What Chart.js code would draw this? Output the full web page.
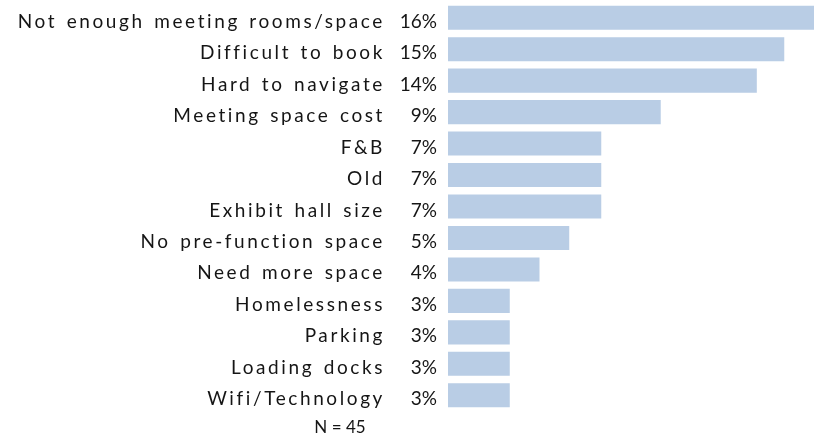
<!DOCTYPE html>
<html>
<head>
<meta charset="utf-8">
<script src="https://cdn.jsdelivr.net/npm/chart.js@4/dist/chart.umd.min.js"></script>
<style>
  html, body { margin: 0; padding: 0; background: #fff; }
  #wrap { width: 816px; height: 435px; }
</style>
</head>
<body>
<div id="wrap"><canvas id="issues-chart"></canvas></div>
<script>
const categories = [
  "Not enough meeting rooms/space",
  "Difficult to book",
  "Hard to navigate",
  "Meeting space cost",
  "F&B",
  "Old",
  "Exhibit hall size",
  "No pre-function space",
  "Need more space",
  "Homelessness",
  "Parking",
  "Loading docks",
  "Wifi/Technology"
];
// share of respondents, in percent
const shares = [16.0, 14.7, 13.5, 9.3, 6.7, 6.7, 6.7, 5.3, 4.0, 2.7, 2.7, 2.7, 2.7];
const sampleNote = "N = 45";

const barColor = "#b9cde5";
const textColor = "#151515";
const labelFont = "19px Lato";

// category names and percent values sit to the left of each bar
const sideLabels = {
  id: "sideLabels",
  afterDatasetsDraw(chart) {
    const ctx = chart.ctx;
    const yScale = chart.scales.y;
    ctx.save();
    ctx.font = labelFont;
    ctx.fillStyle = textColor;
    ctx.textAlign = "right";
    ctx.textBaseline = "alphabetic";
    categories.forEach((name, i) => {
      const y = yScale.getPixelForValue(i) + 10;
      ctx.letterSpacing = "2.6px";
      ctx.wordSpacing = "2px";
      ctx.fillText(name, 385, y);
      ctx.letterSpacing = "0px";
      ctx.wordSpacing = "0px";
      ctx.fillText(Math.round(shares[i]) + "%", 437, y);
    });
    ctx.font = "17px Lato";
    ctx.textAlign = "center";
    ctx.fillText(sampleNote, 340, 433);
    ctx.restore();
  }
};

const chart = new Chart(document.querySelector("#issues-chart"), {
  type: "bar",
  data: {
    labels: categories,
    datasets: [{
      data: shares,
      backgroundColor: barColor,
      borderWidth: 0,
      barPercentage: 0.765,
      categoryPercentage: 1
    }]
  },
  options: {
    indexAxis: "y",
    responsive: true,
    maintainAspectRatio: false,
    animation: false,
    layout: { padding: { left: 448, right: 2, top: 2, bottom: 24 } },
    plugins: {
      legend: { display: false },
      tooltip: { enabled: false }
    },
    scales: {
      x: { display: false, min: 0, max: 16 },
      y: { display: false }
    }
  },
  plugins: [sideLabels]
});
</script>
</body>
</html>
